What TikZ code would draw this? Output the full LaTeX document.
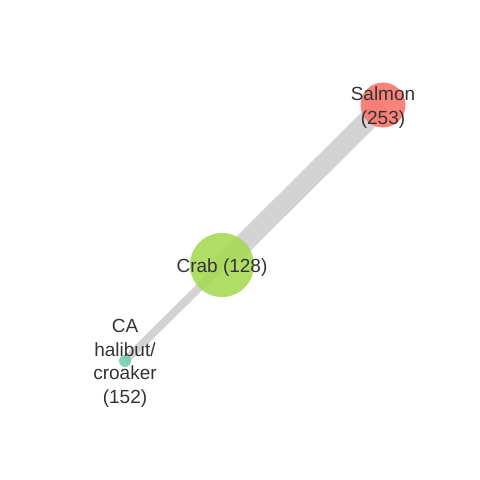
\documentclass[tikz,border=0pt]{standalone}
\usepackage{fontspec}
\setmainfont{Liberation Sans}
\usetikzlibrary{backgrounds}

\definecolor{salmoncol}{HTML}{F8766D}
\definecolor{crabcol}{HTML}{A6D955}
\definecolor{halibutcol}{HTML}{72CFB3}
\definecolor{edgecol}{HTML}{D3D3D3}
\definecolor{labelcol}{HTML}{333333}

\tikzset{
	webpicture/.style = {
		x = 1pt,
		y = -1pt,
		link/.style = {
			draw = edgecol,
			line cap = butt,
		}
	},
	species/.style = {
		circle,
		inner sep = 0pt,
		fill opacity = 0.9,
		draw = none
	},
	specieslabel/.style = {
		text = labelcol,
		align = center,
		yshift = -2.5pt,
		font = \fontsize{19}{23.5}\selectfont
	}
}

\begin{document}
\begin{tikzpicture}[webpicture]
	\useasboundingbox (0,0) rectangle (480,480);

	\node[species, fill = salmoncol, minimum size = 45pt] (salmon) at (383,105) {};
	\node[species, fill = crabcol, minimum size = 64pt] (crab) at (222,265) {};
	\node[species, fill = halibutcol, minimum size = 12pt] (halibut) at (125,361) {};

	\node[specieslabel] (salmon-label) at (salmon) {Salmon\\(253)};
	\node[specieslabel] (crab-label) at (crab) {Crab (128)};
	\node[specieslabel] (halibut-label) at (halibut) {CA\\halibut/\\croaker\\(152)};

	\begin{scope}[on background layer]
		\path[link, line width = 20pt] (salmon.center) -- (crab.center);
		\path[link, line width = 8pt] (crab.center) -- (halibut.center);
	\end{scope}
\end{tikzpicture}
\end{document}
